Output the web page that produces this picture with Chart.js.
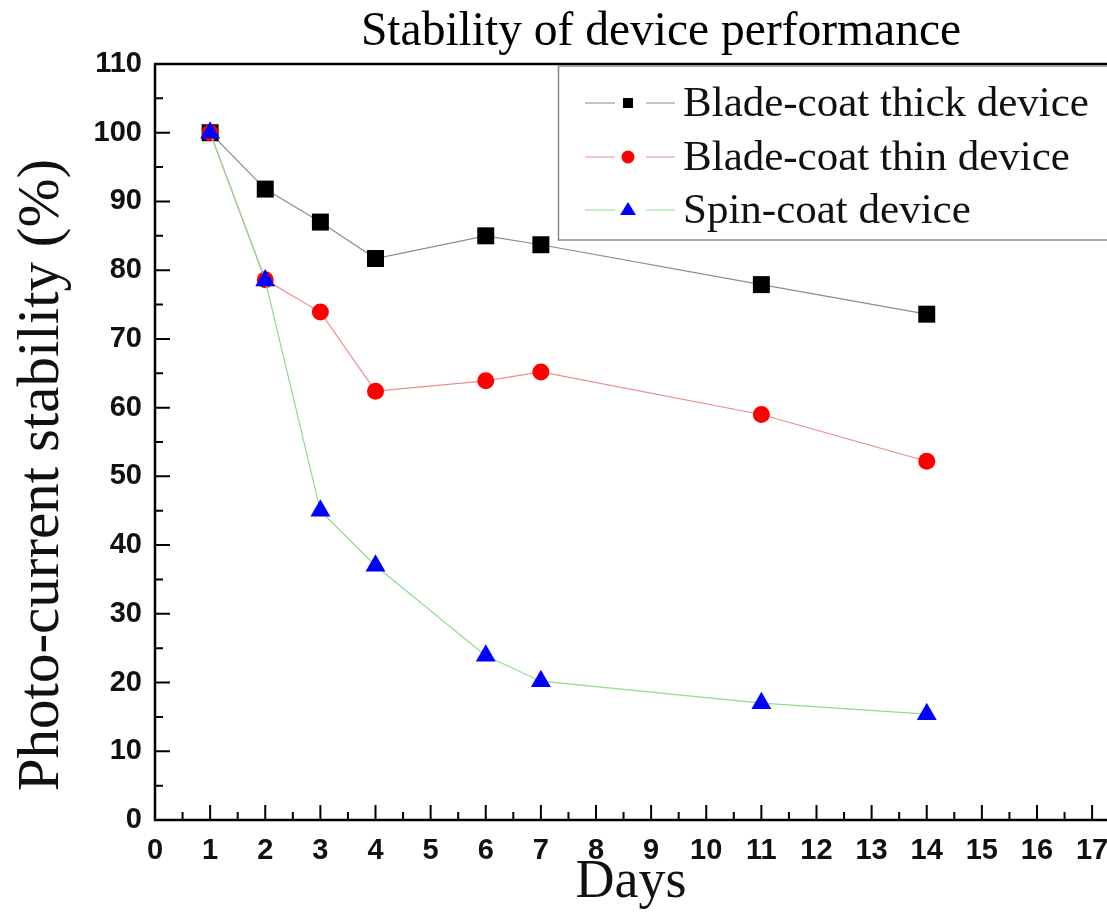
<!DOCTYPE html>
<html>
<head>
<meta charset="utf-8">
<script src="https://cdn.jsdelivr.net/npm/chart.js@4/dist/chart.umd.min.js"></script>
<style>
  html, body { margin: 0; padding: 0; background: #fff; }
  #wrap { width: 1107px; height: 913px; }
</style>
</head>
<body>
<div id="wrap"><canvas id="c" width="1107" height="913"></canvas></div>
<script>
// Measurement days and normalized photo-current (%)
const days = [1, 2, 3, 4, 6, 7, 11, 14];
const thickDevice = [100, 91.8, 87.0, 81.7, 85.0, 83.7, 77.9, 73.6];
const thinDevice  = [100, 78.6, 73.9, 62.4, 63.9, 65.2, 59.0, 52.2];
const spinDevice  = [100, 78.5, 45.0, 37.0, 23.9, 20.2, 17.0, 15.4];

const seriesNames = ['Blade-coat thick device', 'Blade-coat thin device', 'Spin-coat device'];
const chartTitle = 'Stability of device performance';
const xTitle = 'Days';
const yTitle = 'Photo-current stability (%)';

const xTicks = [0,1,2,3,4,5,6,7,8,9,10,11,12,13,14,15,16,17];
const yTicks = [0,10,20,30,40,50,60,70,80,90,100,110];

const SERIF = '"Liberation Serif", "Times New Roman", serif';
const SANS = '"Liberation Sans", Arial, sans-serif';

const styles = [
  { line: '#8c8c8c', fill: '#000000', shape: 'rect', r: 12 },
  { line: '#f08a8a', fill: '#ff0000', shape: 'circle', r: 8.5 },
  { line: '#8fdc8f', fill: '#0000ff', shape: 'triangle', r: 11.5 }
];

function toXY(ys) { return days.map((d, i) => ({ x: d, y: ys[i] })); }
const allSeries = [thickDevice, thinDevice, spinDevice];

const datasets = allSeries.map((ys, i) => ({
  label: seriesNames[i],
  data: toXY(ys),
  borderColor: styles[i].line,
  borderWidth: 1.2,
  backgroundColor: styles[i].fill,
  pointBackgroundColor: styles[i].fill,
  pointBorderColor: styles[i].fill,
  pointBorderWidth: 0,
  pointStyle: styles[i].shape,
  pointRadius: styles[i].r,
  pointHoverRadius: styles[i].r,
  tension: 0,
  order: 2 - i
}));

// Frame, inward tick marks, titles and legend
const decorations = {
  id: 'decorations',
  afterDraw(chart) {
    const ctx = chart.ctx;
    const area = chart.chartArea;
    const xs = chart.scales.x, ys = chart.scales.y;
    ctx.save();
    ctx.strokeStyle = '#000';
    ctx.lineWidth = 2.5;
    ctx.beginPath();
    ctx.moveTo(area.left, area.top);
    ctx.lineTo(area.left, area.bottom);
    ctx.lineTo(area.right + 5, area.bottom);
    ctx.moveTo(area.left - 1, area.top);
    ctx.lineTo(area.right + 5, area.top);
    ctx.stroke();

    ctx.lineWidth = 2;
    ctx.beginPath();
    xTicks.forEach(v => {
      const px = xs.getPixelForValue(v);
      ctx.moveTo(px, area.bottom); ctx.lineTo(px, area.bottom - 15);
      const pm = xs.getPixelForValue(v + 0.5);
      if (pm < area.right) { ctx.moveTo(pm, area.bottom); ctx.lineTo(pm, area.bottom - 8); }
    });
    yTicks.forEach(v => {
      const py = ys.getPixelForValue(v);
      ctx.moveTo(area.left, py); ctx.lineTo(area.left + 15, py);
      if (v + 5 < 110) {
        const pm = ys.getPixelForValue(v + 5);
        ctx.moveTo(area.left, pm); ctx.lineTo(area.left + 8, pm);
      }
    });
    ctx.stroke();

    // Chart title
    ctx.fillStyle = '#000';
    ctx.font = '47.5px ' + SERIF;
    ctx.textAlign = 'center';
    ctx.textBaseline = 'middle';
    ctx.fillText(chartTitle, 661, 33);

    // Vertical axis title
    ctx.save();
    ctx.translate(42, 475);
    ctx.rotate(-Math.PI / 2);
    ctx.font = '59px ' + SERIF;
    ctx.fillStyle = '#111';
    ctx.fillText(yTitle, 0, 0);
    ctx.restore();

    // Legend box
    ctx.strokeStyle = '#8a8a8a';
    ctx.lineWidth = 1.5;
    ctx.strokeRect(558.5, area.top + 2, 600, 174);
    const rows = [103, 157, 210];
    ctx.font = '43px ' + SERIF;
    ctx.textAlign = 'left';
    rows.forEach((ry, i) => {
      const st = styles[i];
      ctx.strokeStyle = st.line;
      ctx.lineWidth = 1.2;
      ctx.beginPath();
      ctx.moveTo(585, ry); ctx.lineTo(615, ry);
      ctx.moveTo(646, ry); ctx.lineTo(675, ry);
      ctx.stroke();
      ctx.fillStyle = st.fill;
      ctx.beginPath();
      if (st.shape === 'rect') {
        ctx.rect(623, ry - 5, 10, 10);
      } else if (st.shape === 'circle') {
        ctx.arc(628, ry, 6.5, 0, Math.PI * 2);
      } else {
        ctx.moveTo(628, ry - 8); ctx.lineTo(636, ry + 5); ctx.lineTo(620, ry + 5); ctx.closePath();
      }
      ctx.fill();
      ctx.fillStyle = '#111';
      ctx.fillText(seriesNames[i], 683, ry + 2);
    });
    ctx.restore();
  }
};

new Chart(document.getElementById('c'), {
  type: 'line',
  data: { datasets },
  options: {
    responsive: false,
    animation: false,
    layout: { autoPadding: false, padding: { top: 64, right: 0, left: 0, bottom: 0 } },
    plugins: { legend: { display: false }, tooltip: { enabled: false }, title: { display: false } },
    scales: {
      x: {
        type: 'linear',
        min: 0, max: 17.27,
        grid: { display: false, drawTicks: false },
        border: { display: false },
        afterBuildTicks(scale) { scale.ticks = xTicks.map(v => ({ value: v })); },
        afterFit(scale) { scale.height = 93; scale.paddingLeft = 0; scale.paddingRight = 0; },
        ticks: { color: '#111', font: { family: SANS, size: 29, weight: 'bold' }, padding: 14, maxRotation: 0, autoSkip: false },
        title: { display: true, text: xTitle, color: '#111', font: { family: SERIF, size: 54 }, padding: { top: 0, bottom: -2 } }
      },
      y: {
        type: 'linear',
        min: 0, max: 110,
        grid: { display: false, drawTicks: false },
        border: { display: false },
        afterBuildTicks(scale) { scale.ticks = yTicks.map(v => ({ value: v })); },
        afterFit(scale) { scale.width = 155; scale.paddingTop = 0; scale.paddingBottom = 0; },
        ticks: { color: '#111', font: { family: SANS, size: 29, weight: 'bold' }, padding: 13, autoSkip: false },
        title: { display: false }
      }
    }
  },
  plugins: [decorations]
});
</script>
</body>
</html>
